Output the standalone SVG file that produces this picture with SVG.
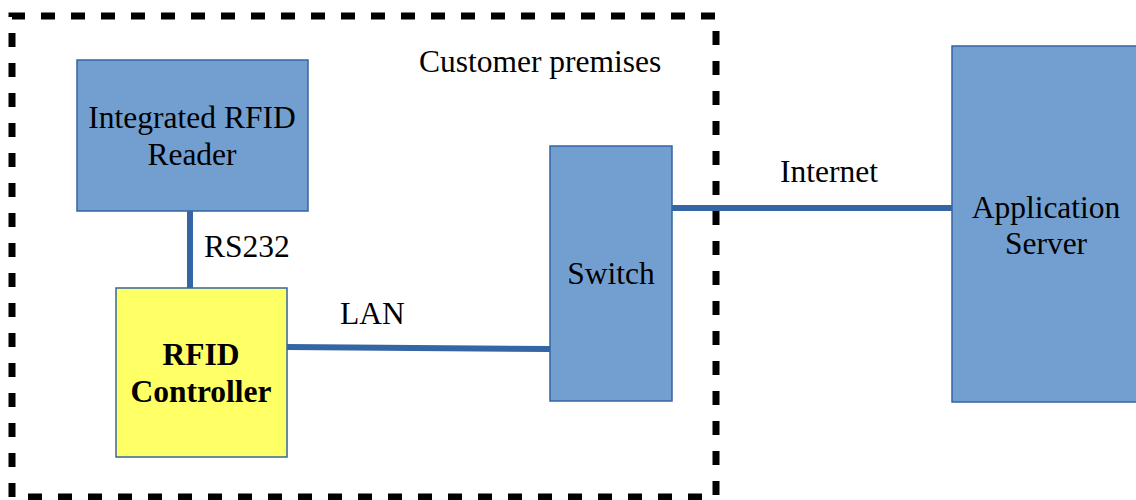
<svg xmlns="http://www.w3.org/2000/svg" width="1136" height="500" viewBox="0 0 1136 500">
<style>
.box{fill:#729fcf;stroke:#3465a4;stroke-width:1.5}
.ctl{fill:#ffff66;stroke:#3465a4;stroke-width:1.5}
.t{font-family:"Liberation Serif","Times New Roman",serif;font-size:31.5px;fill:#000;text-anchor:middle}
.b{font-weight:bold}
.lab{font-family:"Liberation Serif","Times New Roman",serif;font-size:31.5px;fill:#000}
.wire{stroke:#3465a4;stroke-width:6;fill:none}
</style>
<rect width="1136" height="500" fill="#fff"/>
<g id="premises">
<path d="M12 497 V16 H716 V497 H12" fill="none" stroke="#000" stroke-width="7" stroke-dasharray="14 16"/>
<text class="lab" x="419" y="72">Customer premises</text>
</g>
<g id="connectors">
<line class="wire" x1="190" y1="211" x2="190" y2="288"/>
<line class="wire" x1="287" y1="347" x2="550" y2="349"/>
<line class="wire" x1="672" y1="208" x2="952" y2="208"/>
<text class="lab" x="204" y="257">RS232</text>
<text class="lab" x="340" y="324">LAN</text>
<text class="lab" x="780" y="182">Internet</text>
</g>
<g id="reader">
<rect class="box" x="77" y="60" width="231" height="151"/>
<text class="t" x="192" y="128">Integrated RFID</text>
<text class="t" x="192" y="165">Reader</text>
</g>
<g id="controller">
<rect class="ctl" x="116" y="288" width="171" height="169"/>
<text class="t b" x="201" y="365">RFID</text>
<text class="t b" x="201" y="402">Controller</text>
</g>
<g id="switch">
<rect class="box" x="550" y="146" width="122" height="255"/>
<text class="t" x="611" y="284">Switch</text>
</g>
<g id="server">
<rect class="box" x="952" y="46" width="190" height="356"/>
<text class="t" x="1046" y="218">Application</text>
<text class="t" x="1046" y="254">Server</text>
</g>
</svg>
